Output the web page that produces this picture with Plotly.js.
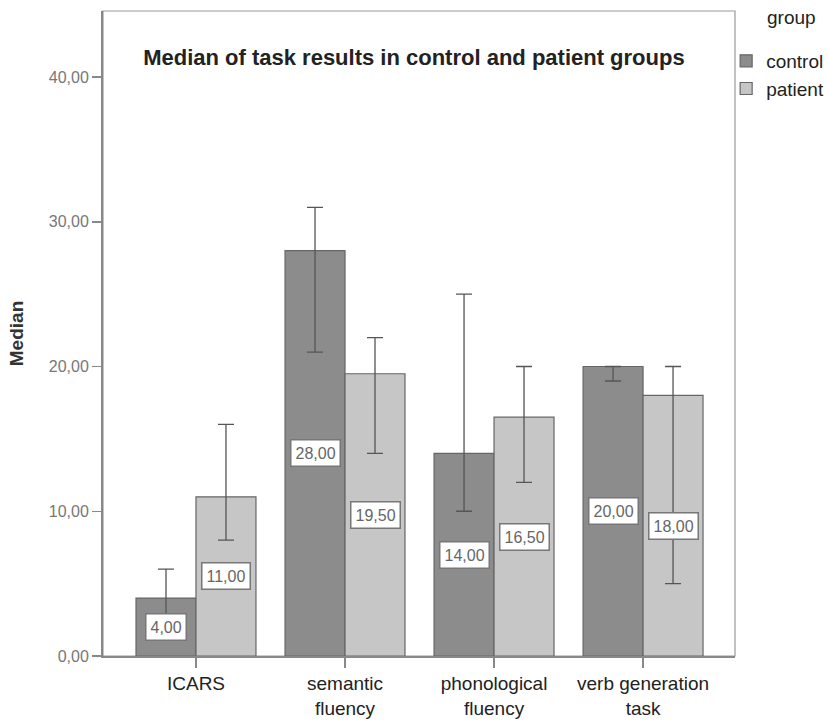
<!DOCTYPE html>
<html>
<head>
<meta charset="utf-8">
<script src="https://cdn.plot.ly/plotly-3.0.1.min.js"></script>
<style>html,body{margin:0;padding:0;background:#fff;}</style>
</head>
<body>
<div id="chart" style="width:828px;height:725px;"></div>
<script>
const categories = ["ICARS", "semantic<br>fluency", "phonological<br>fluency", "verb generation<br>task"];
const controlMedian = [4, 28, 14, 20];
const controlUpper = [6, 31, 25, 20];
const controlLower = [2, 21, 10, 19];
const patientMedian = [11, 19.5, 16.5, 18];
const patientUpper = [16, 22, 20, 20];
const patientLower = [8, 14, 12, 5];
const yTickVals = [0, 10, 20, 30, 40];
const yTickText = ["0,00", "10,00", "20,00", "30,00", "40,00"];

const FONT = "Liberation Sans, Arial, sans-serif";
const bargap = 0.195;
const half = (1 - bargap) / 4;

function fmt(v) { return v.toFixed(2).replace(".", ","); }

function barTrace(name, vals, up, lo, color) {
  return {
    type: "bar", name: name, x: categories, y: vals,
    marker: {color: color, line: {color: "#666", width: 1.2}},
    error_y: {
      type: "data", symmetric: false,
      array: up.map((u, i) => u - vals[i]),
      arrayminus: lo.map((l, i) => vals[i] - l),
      color: "#555", thickness: 1.3, width: 8
    },
    hoverinfo: "skip"
  };
}

const data = [
  barTrace("control", controlMedian, controlUpper, controlLower, "#8c8c8c"),
  barTrace("patient", patientMedian, patientUpper, patientLower, "#c6c6c6")
];

const annotations = [];
[[controlMedian, -half], [patientMedian, half]].forEach(([vals, off]) => {
  vals.forEach((v, i) => {
    annotations.push({
      x: i + off, y: v / 2, xref: "x", yref: "y",
      text: fmt(v), showarrow: false,
      bgcolor: "#ffffff", bordercolor: "#777", borderwidth: 1.5, borderpad: 4,
      font: {family: FONT, size: 16, color: "#666"}
    });
  });
});
annotations.push({
  x: 1.0475, y: 0.99, xref: "paper", yref: "paper", xanchor: "left", yanchor: "middle",
  text: "group", showarrow: false,
  font: {family: FONT, size: 19, color: "#222"}
});

const layout = {
  width: 828, height: 725,
  margin: {l: 103, r: 93, t: 11, b: 69, autoexpand: false},
  paper_bgcolor: "#fff", plot_bgcolor: "#fff",
  barmode: "group", bargap: bargap, bargroupgap: 0,
  title: {
    text: "Median of task results in control and patient groups",
    font: {family: FONT, size: 22, color: "#222", weight: "bold"},
    x: 0.492, xref: "paper", xanchor: "center",
    y: 1 - 57 / 725, yref: "container", yanchor: "middle"
  },
  xaxis: {
    type: "category", range: [-0.624, 3.617],
    showline: true, linecolor: "#888", linewidth: 1.5,
    ticks: "outside", ticklen: 10, tickcolor: "#888", tickwidth: 1.5,
    tickfont: {family: FONT, size: 19, color: "#222"},
    showgrid: false, zeroline: false, fixedrange: true
  },
  yaxis: {
    range: [0, 44.56],
    tickvals: yTickVals, ticktext: yTickText,
    showline: true, linecolor: "#888", linewidth: 2,
    ticks: "outside", ticklen: 9, tickcolor: "#888", tickwidth: 1.5,
    tickfont: {family: FONT, size: 16, color: "#777"},
    showgrid: false, zeroline: false,
    title: {text: "Median", standoff: 20, font: {family: FONT, size: 19, color: "#333", weight: "bold"}}
  },
  legend: {
    x: 0.986, xanchor: "left", y: 0.952, yanchor: "top",
    font: {family: FONT, size: 19, color: "#222"},
    bgcolor: "rgba(0,0,0,0)", tracegroupgap: 0
  },
  shapes: [{
    type: "rect", xref: "paper", yref: "paper", x0: 0, x1: 1, y0: 0, y1: 1,
    line: {color: "#999", width: 1.2}, layer: "below"
  }],
  annotations: annotations
};

Plotly.newPlot("chart", data, layout, {displayModeBar: false, staticPlot: true});
</script>
</body>
</html>
